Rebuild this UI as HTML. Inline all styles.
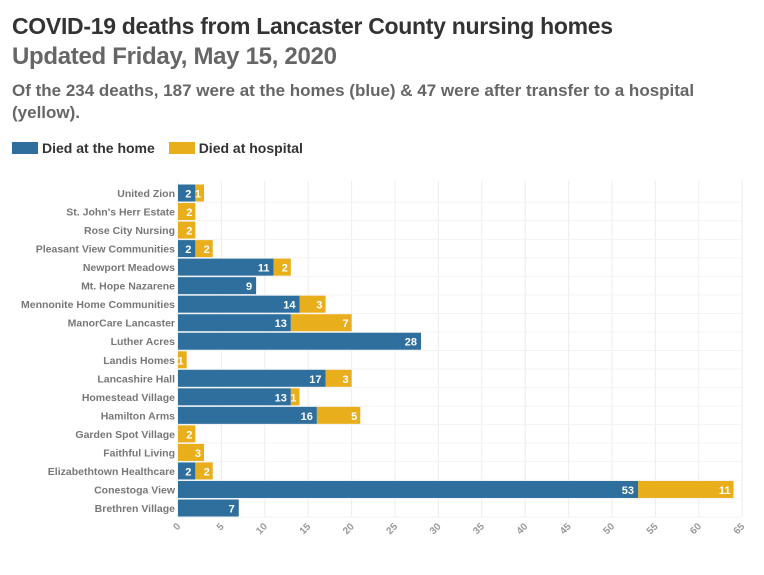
<!DOCTYPE html>
<html><head><meta charset="utf-8"><style>
body{margin:0;background:#fff;font-family:"Liberation Sans",sans-serif;width:764px;height:575px;overflow:hidden}
.t{position:absolute;left:12px;font-weight:bold}
</style></head><body>
<div class="t" style="top:12px;font-size:23px;color:#333;line-height:29px;letter-spacing:-0.3px">COVID-19 deaths from Lancaster County nursing homes</div>
<div class="t" style="top:42px;font-size:24px;color:#666;line-height:29px;letter-spacing:-0.3px">Updated Friday, May 15, 2020</div>
<div class="t" style="top:80px;font-size:17px;color:#666;line-height:22px;width:700px">Of the 234 deaths, 187 were at the homes (blue) &amp; 47 were after transfer to a hospital (yellow).</div>
<div style="position:absolute;left:12px;top:140px;font-size:14px;font-weight:bold;color:#333">
<span><span style="display:inline-block;width:26px;height:12px;background:#2e6f9e;vertical-align:-1px;margin-right:4px"></span>Died at the home</span>
<span style="margin-left:10px"><span style="display:inline-block;width:26px;height:12px;background:#e9ae1c;vertical-align:-1px;margin-right:4px"></span>Died at hospital</span>
</div>
<svg id="c" width="764" height="575" style="position:absolute;left:0;top:0"></svg>
<script>
const categories=["United Zion","St. John's Herr Estate","Rose City Nursing","Pleasant View Communities","Newport Meadows","Mt. Hope Nazarene","Mennonite Home Communities","ManorCare Lancaster","Luther Acres","Landis Homes","Lancashire Hall","Homestead Village","Hamilton Arms","Garden Spot Village","Faithful Living","Elizabethtown Healthcare","Conestoga View","Brethren Village"];
const homeDeaths=[2,0,0,2,11,9,14,13,28,0,17,13,16,0,0,2,53,7];
const hospitalDeaths=[1,2,2,2,2,0,3,7,0,1,3,1,5,2,3,2,11,0];
const ticks=[0,5,10,15,20,25,30,35,40,45,50,55,60,65];
const svg=document.getElementById('c');const NS='http://www.w3.org/2000/svg';
const x0=178,ppu=8.68,y0=193,step=18.53,bh=17,plotTop=181,plotBot=517;
const X=v=>x0+v*ppu, Y=i=>y0+i*step;
function mk(t,a){const e=document.createElementNS(NS,t);for(const k in a)e.setAttribute(k,a[k]);svg.appendChild(e);return e;}
ticks.forEach(t=>{
 const l=mk('line',{x1:X(t),x2:X(t),y1:plotTop,y2:plotBot,stroke:'#ececec','stroke-width':1});
 
 
 const tx=mk('text',{x:X(t)+3,y:plotBot+10,'font-size':10,fill:'#999','font-weight':'bold','text-anchor':'end',transform:`rotate(-45 ${X(t)+3} ${plotBot+10})`});
 tx.textContent=t;
 
 
});
categories.forEach((c,i)=>{
 const y=Y(i);
 const hl=mk('line',{x1:x0,x2:X(65),y1:y+step/2,y2:y+step/2,stroke:'#f3f3f3'});
 
 
 const lb=mk('text',{x:x0-3,y:y+4,'font-size':10.5,'font-weight':'bold',fill:'#777','text-anchor':'end'});
 lb.textContent=c;
 
 
 const h=homeDeaths[i],p=hospitalDeaths[i];
 if(h>0){
  const r=mk('rect',{x:X(0),y:y-bh/2,width:X(h)-X(0),height:bh,fill:'#2e6f9e'});
  
  
  const t=mk('text',{x:X(h)-4,y:y+4.5,'font-size':11,'font-weight':'bold',fill:'#fff','text-anchor':'end'});
  t.textContent=h;
  
  
 }
 if(p>0){
  const r=mk('rect',{x:X(h),y:y-bh/2,width:X(h+p)-X(h),height:bh,fill:'#e9ae1c'});
  
  
  const t=mk('text',{x:X(h+p)-3,y:y+4.5,'font-size':11,'font-weight':'bold',fill:'#fff','text-anchor':'end'});
  t.textContent=p;
  
  
 }
});
</script>
</body></html>
